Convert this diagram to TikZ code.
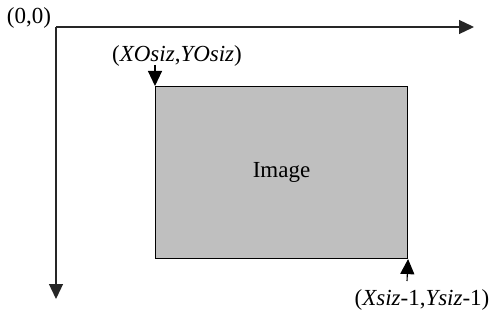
\documentclass[tikz,border=0pt]{standalone}
\usepackage{fontspec}
\setmainfont{Liberation Serif}
\usetikzlibrary{arrows.meta}
\begin{document}
\begin{tikzpicture}[x=1pt,y=-1pt,
  axis/.style={line width=1.3pt, draw=black!85, -{Triangle[length=15pt,width=14pt]}},
  ptr/.style={line width=1.1pt, -{Triangle[length=15pt,width=14pt]}},
  lbl/.style={font=\fontsize{23}{26}\selectfont, inner sep=0pt}]
\useasboundingbox (0,0) rectangle (490,326);
\coordinate (o) at (56,27);
\coordinate (xend) at (474,27);
\coordinate (yend) at (56,299);
\draw[axis] (o) -- (xend);
\draw[axis] (o) -- (yend);
\node[draw=black, line width=1.1pt, fill=black!25, minimum width=252pt, minimum height=172pt, anchor=north west, inner sep=0pt] (img) at (155,86) {};
\node[lbl] at (img.center) {Image};
\node[lbl] (org) at (29,18) {(0,0)};
\node[lbl] (tl) at (177,56) {(\textit{XOsiz},\textit{YOsiz})};
\node[lbl] (br) at (422,300) {(\textit{Xsiz}-1,\textit{Ysiz}-1)};
\coordinate (tls) at (155,65);
\coordinate (brs) at (407,281);
\draw[ptr] (tls) -- (img.north west);
\draw[ptr] (brs) -- (img.south east);
\end{tikzpicture}
\end{document}
